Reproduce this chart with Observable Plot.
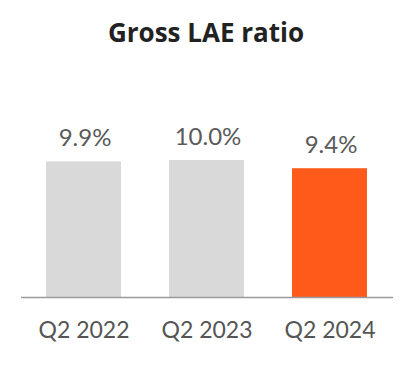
<!DOCTYPE html>
<html>
<head>
<meta charset="utf-8">
<script src="https://cdn.jsdelivr.net/npm/d3@7"></script>
<script src="https://cdn.jsdelivr.net/npm/@observablehq/plot@0.6"></script>
<style>
  html, body { margin: 0; padding: 0; background: #fff; }
  #wrap { width: 412px; height: 384px; overflow: hidden; }
  #title { height: 60px; box-sizing: border-box; padding-top: 17px; text-align: center;
    font-family: "Open Sans", sans-serif; font-weight: 700; font-size: 26px; line-height: 30px; color: #222; }
</style>
</head>
<body>
<div id="wrap">
  <div id="title">Gross LAE ratio</div>
  <div id="chart"></div>
</div>
<script>
const categories = ["Q2 2022", "Q2 2023", "Q2 2024"];
const values = [9.9, 10.0, 9.4];
const valueLabels = ["9.9%", "10.0%", "9.4%"];
const colors = ["#d9d9d9", "#d9d9d9", "#ff5a1a"];

const data = categories.map((c, i) => ({cat: c, value: values[i], label: valueLabels[i], color: colors[i]}));

const chart = Plot.plot({
  width: 412,
  height: 324,
  marginLeft: 21,
  marginRight: 19,
  marginTop: 100,
  marginBottom: 87,
  style: {fontFamily: "Lato, sans-serif", background: "#fff", overflow: "visible"},
  x: {domain: categories, paddingInner: 0.387, paddingOuter: 0.194, label: null},
  y: {domain: [0, 10], axis: null},
  marks: [
    Plot.barY(data, {x: "cat", y: "value", fill: "color"}),
    Plot.ruleY([0], {stroke: "#9a9a9a", strokeWidth: 1.5}),
    Plot.text(data, {x: "cat", y: "value", text: "label", dy: -16, dx: 1, lineAnchor: "bottom",
      fontSize: 24, fill: "#5a5a5a", style: "letter-spacing:2px"}),
    Plot.axisX({tickSize: 0, tickPadding: 24, fontSize: 23, color: "#555", label: null})
  ]
});
document.getElementById("chart").appendChild(chart);
</script>
</body>
</html>
